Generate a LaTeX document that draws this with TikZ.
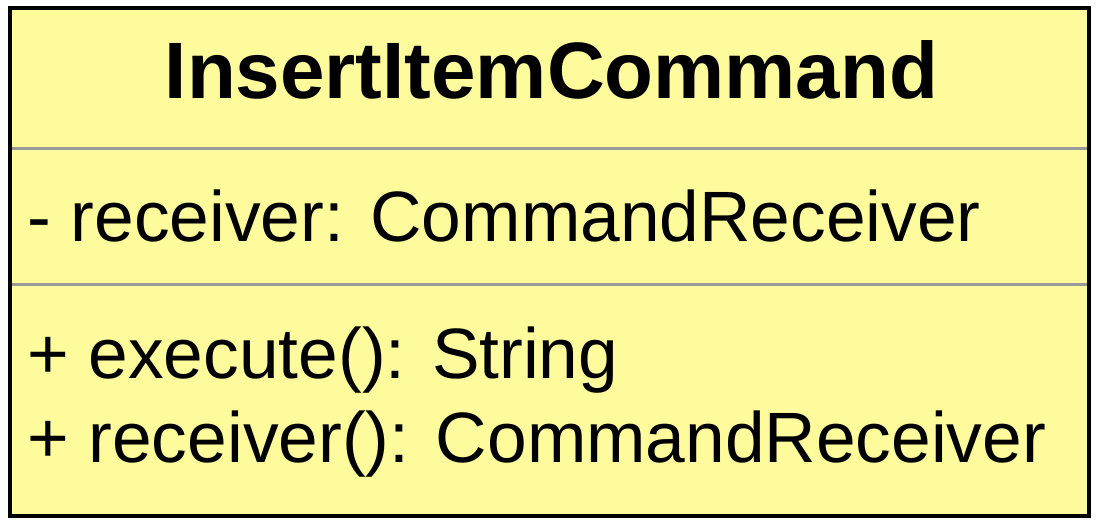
\documentclass[tikz,border=0pt]{standalone}
\usepackage{fontspec}
\setmainfont{Liberation Sans}
\definecolor{classfill}{RGB}{253,251,156}
\definecolor{sepgray}{RGB}{153,153,153}
\begin{document}
\begin{tikzpicture}[x=1pt,y=-1pt,
  classbox/.style={draw=black,line width=4pt,fill=classfill,rectangle,inner sep=0pt,
    minimum width=1078.5pt,minimum height=507.5pt},
  sepline/.style={draw=sepgray,line width=3pt},
  titletext/.style={inner sep=0pt,anchor=base,font=\fontsize{80}{96}\selectfont\bfseries},
  membertext/.style={inner sep=0pt,anchor=base west,font=\fontsize{71.3}{84}\selectfont}]
\useasboundingbox (0,0) rectangle (1100,528);
\node[classbox] (box) at (549.25,261.75) {};
\coordinate (s1l) at (12,148);
\coordinate (s1r) at (1086.5,148);
\coordinate (s2l) at (12,284);
\coordinate (s2r) at (1086.5,284);
\draw[sepline] (s1l) -- (s1r);
\draw[sepline] (s2l) -- (s2r);
\node[titletext] (title) at (551.5,98) {InsertItemCommand};
\node[membertext] (attr) at (27,241.5) {- receiver: CommandReceiver};
\node[membertext] (op1) at (27,378) {+ execute(): String};
\node[membertext] (op2) at (27,462) {+ receiver(): CommandReceiver};
\end{tikzpicture}
\end{document}
